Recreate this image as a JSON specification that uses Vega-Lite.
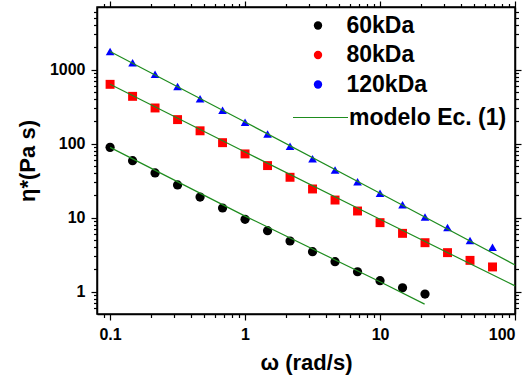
{
  "$schema": "https://vega.github.io/schema/vega-lite/v6.json",
  "width": 418,
  "height": 307,
  "autosize": {"type": "none"},
  "padding": {"left": 97, "top": 7, "right": 14, "bottom": 69},
  "background": "white",
  "config": {
    "view": {"stroke": "black", "strokeWidth": 1.5},
    "axis": {
      "domainColor": "black", "domainWidth": 1.5, "tickColor": "black", "tickWidth": 1.2,
      "labelFont": "Liberation Sans", "labelFontWeight": "bold", "labelFontSize": 16, "labelColor": "black",
      "titleFont": "Liberation Sans", "titleFontWeight": "bold", "titleFontSize": 22, "titleColor": "black",
      "grid": false
    },
    "legend": {
      "labelFont": "Liberation Sans", "labelFontWeight": "bold", "labelFontSize": 23, "labelColor": "black"
    }
  },
  "datasets": {
    "points": [
      {"series": "60kDa", "w": 0.1, "eta": 89},
      {"series": "60kDa", "w": 0.1468, "eta": 58.9},
      {"series": "60kDa", "w": 0.2154, "eta": 40.2},
      {"series": "60kDa", "w": 0.3162, "eta": 27.7},
      {"series": "60kDa", "w": 0.4642, "eta": 19.0},
      {"series": "60kDa", "w": 0.6813, "eta": 13.5},
      {"series": "60kDa", "w": 1, "eta": 9.49},
      {"series": "60kDa", "w": 1.468, "eta": 6.67},
      {"series": "60kDa", "w": 2.154, "eta": 4.84},
      {"series": "60kDa", "w": 3.162, "eta": 3.47},
      {"series": "60kDa", "w": 4.642, "eta": 2.54},
      {"series": "60kDa", "w": 6.813, "eta": 1.86},
      {"series": "60kDa", "w": 10, "eta": 1.41},
      {"series": "60kDa", "w": 14.68, "eta": 1.13},
      {"series": "60kDa", "w": 21.54, "eta": 0.93},
      {"series": "80kDa", "w": 0.1, "eta": 632},
      {"series": "80kDa", "w": 0.1468, "eta": 435},
      {"series": "80kDa", "w": 0.2154, "eta": 303},
      {"series": "80kDa", "w": 0.3162, "eta": 211},
      {"series": "80kDa", "w": 0.4642, "eta": 149},
      {"series": "80kDa", "w": 0.6813, "eta": 103},
      {"series": "80kDa", "w": 1, "eta": 72.6},
      {"series": "80kDa", "w": 1.468, "eta": 50.5},
      {"series": "80kDa", "w": 2.154, "eta": 35.1},
      {"series": "80kDa", "w": 3.162, "eta": 24.4},
      {"series": "80kDa", "w": 4.642, "eta": 17.3},
      {"series": "80kDa", "w": 6.813, "eta": 12.3},
      {"series": "80kDa", "w": 10, "eta": 8.56},
      {"series": "80kDa", "w": 14.68, "eta": 6.14},
      {"series": "80kDa", "w": 21.54, "eta": 4.59},
      {"series": "80kDa", "w": 31.62, "eta": 3.37},
      {"series": "80kDa", "w": 46.42, "eta": 2.65},
      {"series": "80kDa", "w": 68.13, "eta": 2.16},
      {"series": "120kDa", "w": 0.1, "eta": 1750},
      {"series": "120kDa", "w": 0.1468, "eta": 1233},
      {"series": "120kDa", "w": 0.2154, "eta": 864},
      {"series": "120kDa", "w": 0.3162, "eta": 589},
      {"series": "120kDa", "w": 0.4642, "eta": 405},
      {"series": "120kDa", "w": 0.6813, "eta": 282},
      {"series": "120kDa", "w": 1, "eta": 194},
      {"series": "120kDa", "w": 1.468, "eta": 135},
      {"series": "120kDa", "w": 2.154, "eta": 92},
      {"series": "120kDa", "w": 3.162, "eta": 62.7},
      {"series": "120kDa", "w": 4.642, "eta": 44.1},
      {"series": "120kDa", "w": 6.813, "eta": 30.6},
      {"series": "120kDa", "w": 10, "eta": 21.3},
      {"series": "120kDa", "w": 14.68, "eta": 15.0},
      {"series": "120kDa", "w": 21.54, "eta": 10.2},
      {"series": "120kDa", "w": 31.62, "eta": 7.39},
      {"series": "120kDa", "w": 46.42, "eta": 4.93},
      {"series": "120kDa", "w": 68.13, "eta": 3.97}
    ],
    "model": [
      {"series": "60kDa", "w": 0.1, "eta": 89},
      {"series": "60kDa", "w": 1, "eta": 10.5},
      {"series": "60kDa", "w": 10, "eta": 1.36},
      {"series": "60kDa", "w": 21.4, "eta": 0.68},
      {"series": "80kDa", "w": 0.1, "eta": 632},
      {"series": "80kDa", "w": 1, "eta": 77},
      {"series": "80kDa", "w": 10, "eta": 9.5},
      {"series": "80kDa", "w": 100, "eta": 1.2},
      {"series": "120kDa", "w": 0.1, "eta": 1750},
      {"series": "120kDa", "w": 1, "eta": 196},
      {"series": "120kDa", "w": 10, "eta": 21.4},
      {"series": "120kDa", "w": 100, "eta": 2.3}
    ]
  },
  "layer": [
    {
      "data": {"name": "points"},
      "mark": {"type": "point", "filled": true, "opacity": 1},
      "encoding": {
        "x": {"field": "w", "type": "quantitative",
          "scale": {"type": "log", "domain": [0.08, 100], "nice": false},
          "axis": {"orient": "bottom", "values": [0.1, 1, 10, 100], "format": "~g", "tickSize": 6, "labelPadding": 6,
            "title": "ω (rad/s)", "titlePadding": 10}},
        "y": {"field": "eta", "type": "quantitative",
          "scale": {"type": "log", "domain": [0.5, 7000], "nice": false},
          "axis": {"orient": "left", "values": [1, 10, 100, 1000], "format": "~g", "tickSize": 6, "labelPadding": 6,
            "title": "η*(Pa s)\u00a0\u00a0\u00a0\u00a0\u00a0\u00a0\u00a0", "titlePadding": 10}},
        "size": {"field": "series", "type": "nominal",
          "scale": {"domain": ["60kDa", "80kDa", "120kDa"], "range": [85, 75, 140]},
          "legend": null},
        "color": {"field": "series", "type": "nominal",
          "scale": {"domain": ["60kDa", "80kDa", "120kDa"], "range": ["#000000", "#ff0000", "#0000ff"]},
          "legend": {"orient": "none", "legendX": 209.5, "legendY": 7, "title": null, "symbolSize": 70, "labelOffset": 17, "rowPadding": 5.5}},
        "shape": {"field": "series", "type": "nominal",
          "scale": {"domain": ["60kDa", "80kDa", "120kDa"], "range": ["circle", "square", "triangle-up"]},
          "legend": {"orient": "none", "legendX": 209.5, "legendY": 7, "title": null, "symbolSize": 70, "labelOffset": 17, "rowPadding": 5.5}}
      }
    },
    {
      "data": {"name": "model"},
      "mark": {"type": "line", "strokeWidth": 1.2},
      "encoding": {
        "x": {"field": "w", "type": "quantitative",
          "scale": {"type": "log", "domain": [0.08, 100], "nice": false},
          "axis": {"orient": "bottom", "values": [0.09, 0.2, 0.3, 0.4, 0.5, 0.6, 0.7, 0.8, 0.9, 2, 3, 4, 5, 6, 7, 8, 9, 20, 30, 40, 50, 60, 70, 80, 90], "labels": false, "domain": false, "tickSize": 3.5, "title": null}},
        "y": {"field": "eta", "type": "quantitative",
          "scale": {"type": "log", "domain": [0.5, 7000], "nice": false},
          "axis": {"orient": "left", "values": [0.6, 0.7, 0.8, 0.9, 2, 3, 4, 5, 6, 7, 8, 9, 20, 30, 40, 50, 60, 70, 80, 90, 200, 300, 400, 500, 600, 700, 800, 900, 2000, 3000, 4000, 5000, 6000], "labels": false, "domain": false, "tickSize": 3.5, "title": null}},
        "detail": {"field": "series"},
        "color": {"datum": "modelo Ec. (1)", "type": "nominal",
          "scale": {"range": ["#1e8c1e"]},
          "legend": {"orient": "none", "legendX": 195, "legendY": 82, "title": null, "symbolType": "stroke", "symbolSize": 3025, "symbolStrokeWidth": 1.2, "labelOffset": 0}}
      }
    },
    {
      "data": {"name": "points"},
      "mark": {"type": "point", "opacity": 0},
      "encoding": {
        "x": {"field": "w", "type": "quantitative",
          "scale": {"type": "log", "domain": [0.08, 100], "nice": false},
          "axis": {"orient": "top", "values": [0.1, 1, 10, 100], "labels": false, "tickSize": 6, "title": null}},
        "y": {"field": "eta", "type": "quantitative",
          "scale": {"type": "log", "domain": [0.5, 7000], "nice": false},
          "axis": {"orient": "right", "values": [1, 10, 100, 1000], "labels": false, "tickSize": 6, "title": null}}
      }
    },
    {
      "data": {"name": "points"},
      "mark": {"type": "point", "opacity": 0},
      "encoding": {
        "x": {"field": "w", "type": "quantitative",
          "scale": {"type": "log", "domain": [0.08, 100], "nice": false},
          "axis": {"orient": "top", "values": [0.09, 0.2, 0.3, 0.4, 0.5, 0.6, 0.7, 0.8, 0.9, 2, 3, 4, 5, 6, 7, 8, 9, 20, 30, 40, 50, 60, 70, 80, 90], "labels": false, "domain": false, "tickSize": 3.5, "title": null}},
        "y": {"field": "eta", "type": "quantitative",
          "scale": {"type": "log", "domain": [0.5, 7000], "nice": false},
          "axis": {"orient": "right", "values": [0.6, 0.7, 0.8, 0.9, 2, 3, 4, 5, 6, 7, 8, 9, 20, 30, 40, 50, 60, 70, 80, 90, 200, 300, 400, 500, 600, 700, 800, 900, 2000, 3000, 4000, 5000, 6000], "labels": false, "domain": false, "tickSize": 3.5, "title": null}}
      }
    }
  ],
  "resolve": {"axis": {"x": "independent", "y": "independent"}, "scale": {"color": "independent"}}
}
